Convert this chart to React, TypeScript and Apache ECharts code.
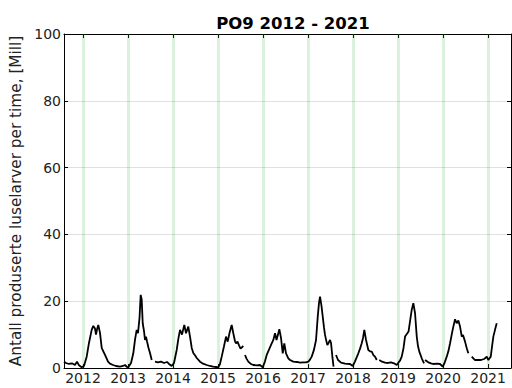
import React, { useEffect, useRef } from "react";
import * as echarts from "echarts";

// decimal year positions of the readings (null-valued entries are gaps in the record)
const years: number[] = [
  2011.578, 2011.622, 2011.689, 2011.756, 2011.822, 2011.867, 2011.911, 2011.971, 2012.022, 2012.082,
  2012.133, 2012.193, 2012.229, 2012.267, 2012.289, 2012.311, 2012.34, 2012.378, 2012.416, 2012.444,
  2012.489, 2012.556, 2012.6, 2012.667, 2012.733, 2012.822, 2012.889, 2012.933, 2012.978, 2013.007,
  2013.067, 2013.118, 2013.156, 2013.193, 2013.222, 2013.256, 2013.282, 2013.304, 2013.327, 2013.356,
  2013.378, 2013.4, 2013.422, 2013.456, 2013.489, 2013.527, 2013.55,
  2013.6, 2013.667, 2013.733, 2013.8, 2013.867, 2013.911, 2013.971, 2014.022, 2014.082, 2014.122,
  2014.156, 2014.2, 2014.251, 2014.289, 2014.34, 2014.378, 2014.416, 2014.451, 2014.489, 2014.527,
  2014.6, 2014.667, 2014.749, 2014.822, 2014.889, 2014.956, 2015.007, 2015.044, 2015.082, 2015.133,
  2015.178, 2015.216, 2015.256, 2015.304, 2015.34, 2015.378, 2015.4, 2015.433, 2015.467, 2015.5,
  2015.533, 2015.562, 2015.58,
  2015.6, 2015.633, 2015.673, 2015.733, 2015.784, 2015.867, 2015.933, 2015.993, 2016.044, 2016.082,
  2016.133, 2016.193, 2016.229, 2016.267, 2016.3, 2016.333, 2016.362, 2016.4, 2016.438, 2016.473,
  2016.511, 2016.562, 2016.6, 2016.673, 2016.756, 2016.822, 2016.896, 2016.956, 2017.007, 2017.044,
  2017.082, 2017.133, 2017.178, 2017.216, 2017.244, 2017.267, 2017.3, 2017.327, 2017.356, 2017.378,
  2017.4, 2017.429, 2017.456, 2017.489, 2017.511, 2017.544, 2017.567, 2017.58,
  2017.622, 2017.667, 2017.733, 2017.822, 2017.933, 2017.993, 2018.044, 2018.118, 2018.156, 2018.193,
  2018.222, 2018.251, 2018.289, 2018.34, 2018.378, 2018.416, 2018.456, 2018.489, 2018.527, 2018.55,
  2018.584, 2018.644, 2018.711, 2018.778, 2018.844, 2018.911, 2018.971, 2019.007, 2019.044, 2019.082,
  2019.122, 2019.156, 2019.207, 2019.233, 2019.267, 2019.304, 2019.34, 2019.378, 2019.416, 2019.444,
  2019.473, 2019.527, 2019.578, 2019.59,
  2019.6, 2019.673, 2019.733, 2019.784, 2019.867, 2019.933, 2019.993, 2020.033, 2020.082, 2020.122,
  2020.156, 2020.2, 2020.229, 2020.267, 2020.304, 2020.34, 2020.378, 2020.416, 2020.444, 2020.489,
  2020.527, 2020.562, 2020.58,
  2020.638, 2020.678, 2020.711, 2020.778, 2020.844, 2020.911, 2020.933, 2020.971, 2021.007, 2021.06,
  2021.089, 2021.118, 2021.156, 2021.193,
];

// produced lice larvae per hour, millions
const larvae: (number | null)[] = [
  1.9, 1.5, 1.2, 1.4, 0.9, 1.9, 0.8, 0.2, 0.6, 3.4,
  7.5, 11.4, 12.6, 11.8, 10.0, 11.5, 12.9, 10.5, 6.0, 5.2,
  3.9, 1.9, 1.3, 0.9, 0.6, 0.4, 0.6, 0.9, 0.3, 0.2,
  1.5, 4.4, 8.5, 11.4, 10.4, 15.0, 21.9, 20.5, 13.4, 11.0,
  8.4, 9.4, 8.0, 6.0, 4.5, 2.4, null,
  1.9, 1.7, 1.9, 1.5, 1.8, 1.2, 0.6, 1.5, 5.4, 9.0,
  11.4, 10.0, 12.9, 10.4, 12.4, 9.4, 6.0, 4.5, 3.8, 3.0,
  1.9, 1.3, 0.9, 0.6, 0.4, 0.3, 0.2, 1.2, 3.4, 6.5,
  9.4, 7.9, 10.5, 12.9, 10.4, 8.0, 7.4, 7.9, 6.8, 5.8,
  6.2, 6.6, null,
  3.9, 2.8, 1.9, 1.2, 0.9, 0.8, 0.9, 0.2, 2.0, 3.9,
  5.5, 7.4, 8.4, 10.4, 8.4, 10.0, 11.6, 9.0, 4.4, 7.4,
  4.4, 2.9, 2.4, 1.9, 1.8, 1.6, 1.7, 1.7, 1.9, 2.5,
  3.4, 5.5, 8.4, 15.4, 19.5, 21.4, 18.5, 15.4, 12.0, 9.9,
  8.5, 6.9, 7.5, 8.4, 7.5, 3.0, 0.4, null,
  3.9, 2.4, 1.6, 1.3, 1.2, 0.6, 2.0, 4.4, 5.8, 7.4,
  9.0, 11.4, 8.4, 5.4, 5.0, 4.9, 3.8, 3.4, 2.4, null,
  2.4, 1.9, 1.6, 1.5, 1.7, 1.4, 0.9, 1.6, 2.2, 3.4,
  6.0, 9.4, 10.4, 10.9, 14.0, 17.4, 19.4, 16.4, 9.4, 6.5,
  4.9, 2.9, 1.4, null,
  2.4, 1.7, 1.4, 1.2, 1.3, 1.2, 0.4, 1.5, 3.4, 5.2,
  7.4, 10.5, 12.4, 14.6, 13.4, 14.2, 12.4, 9.4, 9.9, 7.9,
  5.9, 4.4, null,
  3.4, 2.8, 2.4, 2.4, 2.4, 2.7, 2.9, 3.4, 2.4, 3.4,
  6.5, 9.4, 11.5, 13.4,
];

const yearTicks: number[] = [2012, 2013, 2014, 2015, 2016, 2017, 2018, 2019, 2020, 2021];

const FONT = "DejaVu Sans";

export default function App() {
  const ref = useRef<HTMLDivElement>(null);
  useEffect(() => {
    if (!ref.current) return;
    const chart = echarts.init(ref.current, undefined, { renderer: "svg" });
    const data = years.map((t, i) => [t, larvae[i]]);
    const xMin = 2011.578;
    const xMax = 2021.51;
    chart.setOption({
      animation: false,
      textStyle: { fontFamily: FONT },
      title: {
        text: "PO9 2012 - 2021",
        left: 288,
        top: 10,
        textAlign: "center",
        textStyle: { fontFamily: FONT, fontSize: 16.5, fontWeight: "bold", color: "#000" },
      },
      grid: { left: 64, right: 1, top: 34, bottom: 20, containLabel: false },
      xAxis: [
        {
          type: "value",
          min: xMin,
          max: xMax,
          axisLine: { show: true, onZero: false, lineStyle: { color: "#000", width: 1 } },
          axisTick: { show: true, inside: true, length: 4, customValues: yearTicks, lineStyle: { color: "#000" } },
          axisLabel: {
            show: true,
            customValues: yearTicks,
            formatter: (v: number) => String(Math.round(v)),
            fontFamily: FONT,
            fontSize: 14,
            color: "#222",
            margin: 3,
          },
          splitLine: { show: false },
        },
        {
          type: "value",
          position: "top",
          min: xMin,
          max: xMax,
          axisLine: { show: true, onZero: false, lineStyle: { color: "#000", width: 1 } },
          axisTick: { show: true, inside: true, length: 4, customValues: yearTicks, lineStyle: { color: "#000" } },
          axisLabel: { show: false },
          splitLine: { show: false },
        },
      ],
      yAxis: [
        {
          type: "value",
          min: 0,
          max: 100,
          interval: 20,
          name: "Antall produserte luselarver per time, [Mill]",
          nameLocation: "middle",
          nameGap: 35,
          nameTextStyle: { fontFamily: FONT, fontSize: 15.3, color: "#222" },
          axisLine: { show: true, onZero: false, lineStyle: { color: "#000", width: 1 } },
          axisTick: { show: true, inside: true, length: 4, lineStyle: { color: "#000" } },
          axisLabel: { fontFamily: FONT, fontSize: 14, color: "#222", margin: 3 },
          splitLine: { show: true, lineStyle: { color: "#e0e0e0", width: 1 } },
        },
        {
          type: "value",
          position: "right",
          min: 0,
          max: 100,
          interval: 20,
          axisLine: { show: true, onZero: false, lineStyle: { color: "#000", width: 1 } },
          axisTick: { show: true, inside: true, length: 4, lineStyle: { color: "#000" } },
          axisLabel: { show: false },
          splitLine: { show: false },
        },
      ],
      series: [
        {
          type: "line",
          xAxisIndex: 0,
          yAxisIndex: 0,
          data,
          showSymbol: false,
          connectNulls: false,
          lineStyle: { color: "#000", width: 1.8 },
          z: 3,
          markLine: {
            silent: true,
            symbol: "none",
            label: { show: false },
            lineStyle: { color: "rgba(60,180,60,0.18)", width: 3, type: "solid" },
            data: yearTicks.map((y) => ({ xAxis: y })),
            z: 1,
          },
        },
      ],
    });
    return () => chart.dispose();
  }, []);
  return (
    <div
      ref={ref}
      style={{ position: "absolute", left: 0, top: 0, width: 512, height: 388 }}
    />
  );
}
